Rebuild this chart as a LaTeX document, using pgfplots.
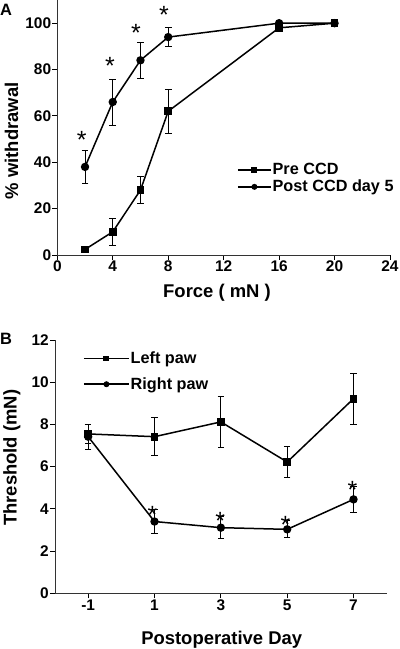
\documentclass[border=0pt]{standalone}
\usepackage{fontspec}
\setmainfont{Liberation Sans}
\usepackage{pgfplots}
\pgfplotsset{compat=1.18}
\newcommand\lgf{\bfseries\fontsize{16.3}{16.3}\selectfont}
\pgfplotsset{
  gp/.style={
    scale only axis,
    axis lines=left,
    axis line style={-, line width=0.9bp, black!80},
    tick align=outside,
    major tick length=5bp,
    tick style={black, line width=0.9bp},
    minor tick num=0,
    /pgf/number format/assume math mode=true,
    ticklabel style={font=\bfseries\fontsize{15.5}{15.5}\selectfont},
    xticklabel style={inner sep=1bp},
    yticklabel style={inner sep=1bp},
    label style={font=\bfseries\fontsize{18.5}{18.5}\selectfont},
    clip=false,
  },
  sq/.style={black, line width=1.5bp, mark=square*, mark size=3.1bp,
    error bars/.cd, y dir=both, y explicit,
    error bar style={line width=0.9bp, black},
    error mark options={line width=0.9bp, mark size=3.3bp, rotate=90}},
  ci/.style={black, line width=1.5bp, mark=*, mark size=3.4bp,
    error bars/.cd, y dir=both, y explicit,
    error bar style={line width=0.9bp, black},
    error mark options={line width=0.9bp, mark size=3.3bp, rotate=90}},
  star/.style={draw=none, mark=text, text mark={*}, text mark as node=true,
    text mark style={font=\fontsize{25}{25}\selectfont, inner sep=0pt, anchor=center}},
}
\begin{document}
\begin{tikzpicture}
\path[use as bounding box] (0bp,0bp) rectangle (400bp,-649bp);
\node[anchor=base west, inner sep=0pt, font=\bfseries\fontsize{16.5}{16.5}\selectfont] at (0bp,-15bp) {A};
\node[anchor=base west, inner sep=0pt, font=\bfseries\fontsize{16.5}{16.5}\selectfont] at (0bp,-344bp) {B};

\begin{axis}[gp,
  at={(57.3bp,-255bp)}, anchor=south west,
  width=332.7bp, height=255bp,
  xmin=0, xmax=24, ymin=0, ymax=110,
  xtick={0,4,...,24}, ytick={0,20,...,100},
  xlabel={Force ( mN )}, ylabel={\% withdrawal},
  xlabel style={at={(axis description cs:0.48,-0.167)}, anchor=base},
  ylabel style={at={(axis description cs:-0.118,0.448)}, anchor=base, rotate=0},
  legend style={draw=none, fill=none, inner sep=0pt, at={(axis description cs:0.54,0.364)}, anchor=north west,
    font=\lgf, row sep=2bp, nodes={inner sep=1bp}},
  legend cell align=left,
  legend image code/.code={\draw[mark repeat=2,mark phase=2,#1, mark size=2.2bp] plot coordinates {(0bp,0bp) (16.5bp,0bp) (33bp,0bp)};},
]
\addplot[sq] table[x=x, y=y, y error=e] {
x y e
2 2.4 1.5
4 10 5.7
6 28 5.8
8 62 9.5
16 98 1.5
20 100 0
};
\addlegendentry{\lgf Pre CCD}
\addplot[ci] table[x=x, y=y, y error=e] {
x y e
2 38 7.2
4 66 9.9
6 84 7.8
8 94 4
16 100 0
20 100 0
};
\addlegendentry{\lgf Post CCD day 5}
\addplot[star, forget plot] coordinates {(1.76,49.6) (3.8,81.4) (5.68,95.8) (7.7,103.4)};
\end{axis}

\begin{axis}[gp,
  at={(55bp,-593.3bp)}, anchor=south west,
  width=331.7bp, height=253.3bp,
  xmin=-2, xmax=8, ymin=0, ymax=12,
  xtick={-1,1,3,5,7}, xticklabels={-1,1,3,5,7},
  ytick={0,2,...,12},
  xlabel={Postoperative Day}, ylabel={Threshold (mN)},
  xlabel style={at={(axis description cs:0.5026,-0.204)}, anchor=base},
  ylabel style={at={(axis description cs:-0.116,0.535)}, anchor=base, rotate=0},
  legend style={draw=none, fill=none, inner sep=0pt, at={(axis description cs:0.0844,0.958)}, anchor=north west,
    font=\lgf, row sep=10.5bp, nodes={inner sep=1bp}},
  legend cell align=left,
  legend image code/.code={\draw[mark repeat=2,mark phase=2,#1, mark size=2.2bp] plot coordinates {(0bp,0bp) (22.5bp,0bp) (45bp,0bp)};},
]
\addplot[sq] table[x=x, y=y, y error=e] {
x y e
-1 7.55 0.45
1 7.42 0.9
3 8.12 1.2
5 6.22 0.73
7 9.22 1.2
};
\addlegendentry{\lgf Left paw}
\addplot[ci] table[x=x, y=y, y error=e] {
x y e
-1 7.42 0.6
1 3.4 0.55
3 3.11 0.52
5 3.03 0.4
7 4.45 0.6
};
\addlegendentry{\lgf Right paw}
\addplot[star, forget plot] coordinates {(0.937,3.7) (2.98,3.41) (4.95,3.22) (6.97,4.89)};
\end{axis}
\end{tikzpicture}
\end{document}
